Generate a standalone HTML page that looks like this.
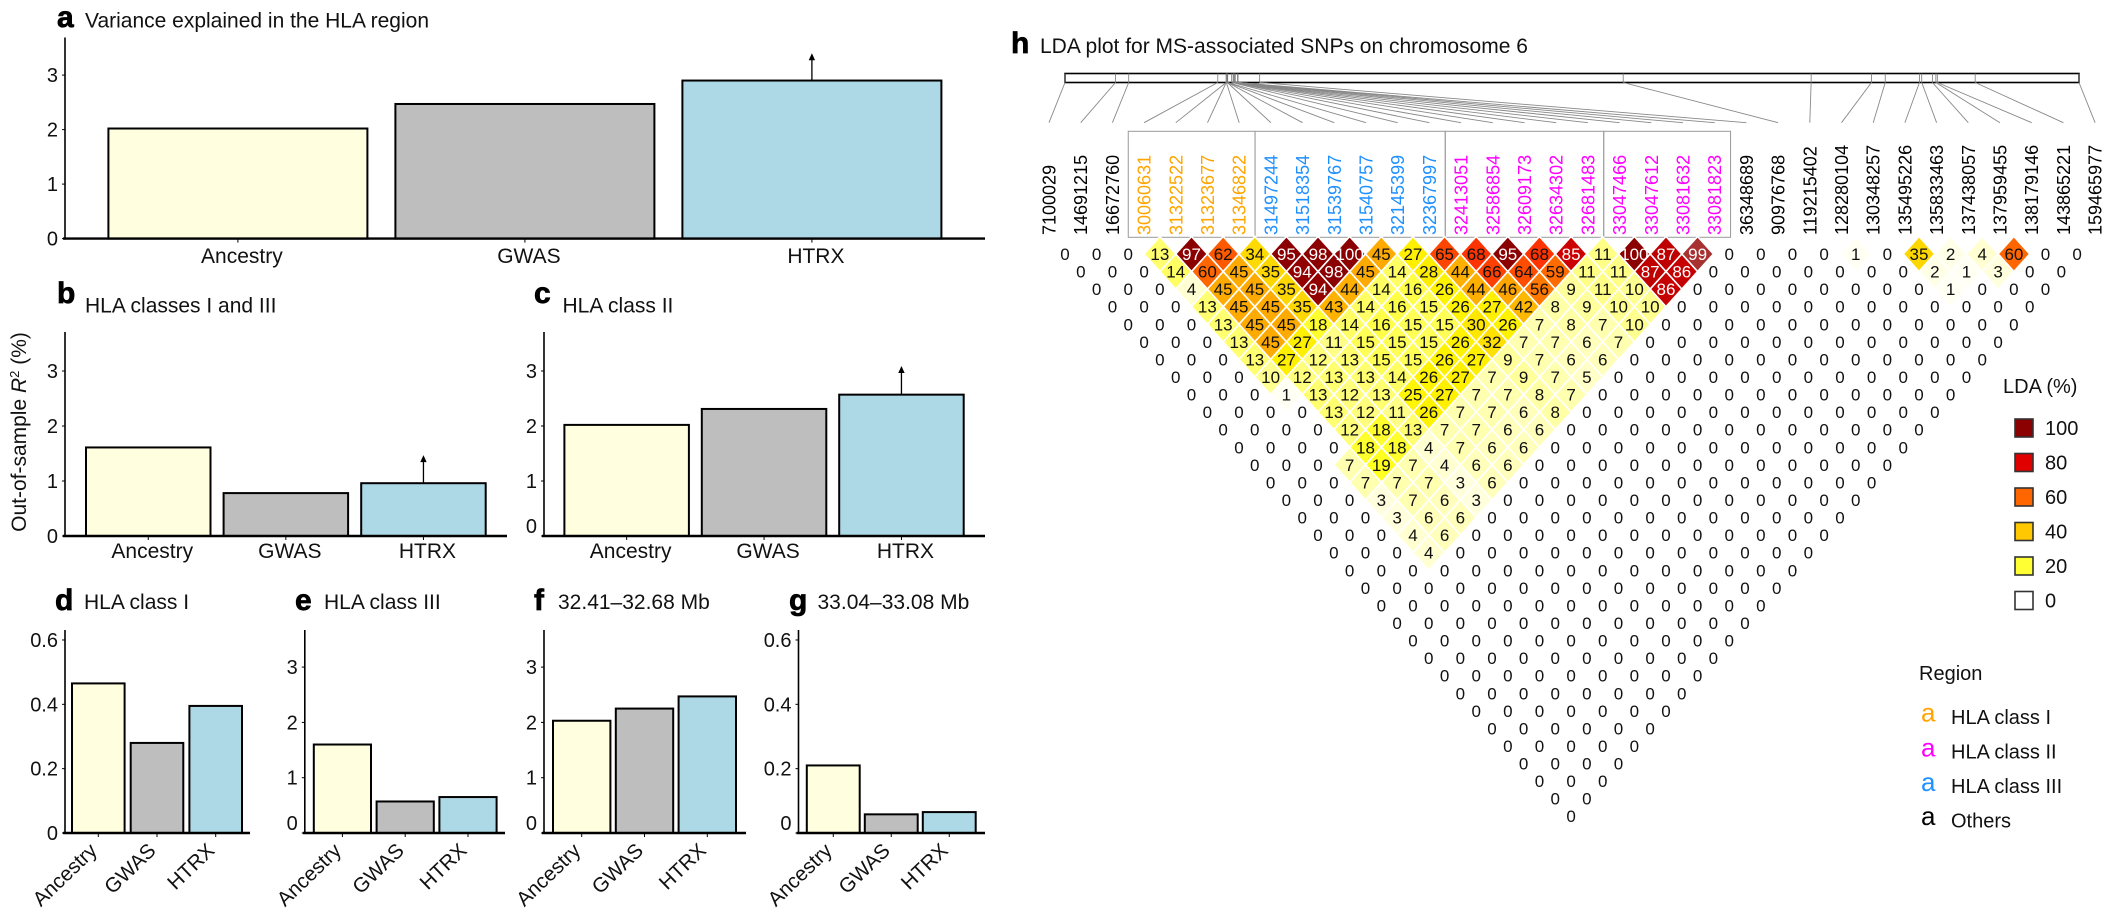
<!DOCTYPE html>
<html lang="en">
<head>
<meta charset="utf-8">
<title>Variance explained in the HLA region and LDA plot</title>
<style>
html,body{margin:0;padding:0;background:#fff;}
svg{display:block;}
text{font-family:"Liberation Sans",Arial,sans-serif;fill:#111;}
.letter{font-size:30px;font-weight:bold;stroke:#000;stroke-width:.7px;fill:#000;}
.title{font-size:21px;}
.lg{font-size:20px;}
.key{font-size:26px;}
</style>
</head>
<body>
<svg id="figure" xmlns="http://www.w3.org/2000/svg" width="2106" height="911" viewBox="0 0 2106 911">
  <rect x="0" y="0" width="2106" height="911" fill="#fff"/>

  <text class="letter" x="57" y="27">a</text>
  <text class="title" x="85" y="27.5">Variance explained in the HLA region</text>
  <text class="letter" x="57" y="303">b</text>
  <text class="title" x="85" y="312.5">HLA classes I and III</text>
  <text class="letter" x="534" y="303">c</text>
  <text class="title" x="562.5" y="312.5">HLA class II</text>
  <text class="letter" x="55" y="610">d</text>
  <text class="title" x="84" y="609">HLA class I</text>
  <text class="letter" x="295" y="610">e</text>
  <text class="title" x="324" y="609">HLA class III</text>
  <text class="letter" x="534" y="610">f</text>
  <text class="title" x="558" y="609">32.41–32.68 Mb</text>
  <text class="letter" x="789" y="610">g</text>
  <text class="title" x="817.5" y="609">33.04–33.08 Mb</text>
  <text class="letter" x="1011" y="53">h</text>
  <text class="title" x="1040" y="53">LDA plot for MS-associated SNPs on chromosome 6</text>

  <text class="title" transform="translate(26,432) rotate(-90)" text-anchor="middle">Out-of-sample <tspan font-style="italic">R</tspan><tspan font-size="13" dy="-7">2</tspan><tspan dy="7"> (%)</tspan></text>

  <g id="bar-panels"></g>
  <g id="ld-plot"></g>

  <g>
    <text class="lg" x="2003" y="393">LDA (%)</text>
    <g id="lda-legend-entries"></g>
  </g>
  <g>
    <text class="lg" x="1919" y="680">Region</text>
    <text class="key" x="1921" y="721.7" style="fill:#ffa500">a</text>
    <text class="lg" x="1951" y="724">HLA class I</text>
    <text class="key" x="1921" y="756.5" style="fill:#ff00ff">a</text>
    <text class="lg" x="1951" y="758.5">HLA class II</text>
    <text class="key" x="1921" y="791" style="fill:#1e90ff">a</text>
    <text class="lg" x="1951" y="793">HLA class III</text>
    <text class="key" x="1921" y="825" style="fill:#000">a</text>
    <text class="lg" x="1951" y="827.5">Others</text>
  </g>
</svg>

<script>
// ---- bar chart data ----
const categories = ['Ancestry', 'GWAS', 'HTRX'];
const barColors = ['#ffffe0', '#bebebe', '#add8e6'];
const valuesA = [2.02, 2.47, 2.9];
const valuesB = [1.61, 0.78, 0.96];
const valuesC = [2.02, 2.31, 2.57];
const valuesD = [0.465, 0.28, 0.395];
const valuesE = [1.6, 0.57, 0.65];
const valuesF = [2.03, 2.25, 2.47];
const valuesG = [0.21, 0.058, 0.065];
const arrowTipA = 3.4;
const arrowTipB = 1.47;
const arrowTipC = 3.09;
const ticksInt = [0, 1, 2, 3];
const tickLabelsInt = ['0', '1', '2', '3'];
const ticksFrac = [0, 0.2, 0.4, 0.6];
const tickLabelsFrac = ['0', '0.2', '0.4', '0.6'];

// ---- LDA plot data ----
const snpPositions = [7100029, 14691215, 16672760, 30060631, 31322522, 31323677, 31346822, 31497244, 31518354, 31539767, 31540757, 32145399, 32367997, 32413051, 32586854, 32609173, 32634302, 32681483, 33047466, 33047612, 33081632, 33081823, 36348689, 90976768, 119215402, 128280104, 130348257, 135495226, 135833463, 137438057, 137959455, 138179146, 143865221, 159465977];
const snpRegions = ['o','o','o','1','1','1','1','3','3','3','3','3','3','2','2','2','2','2','2','2','2','2','o','o','o','o','o','o','o','o','o','o','o','o'];
const ldaTop = [
 [0,0,0,13,97,62,34,95,98,100,45,27,65,68,95,68,85,11,100,87,99,0,0,0,0,1,0,35,2,4,60,0,0],
 [0,0,0,14,60,45,35,94,98,45,14,28,44,66,64,59,11,11,87,86,0,0,0,0,0,0,0,2,1,3,0,0],
 [0,0,0,4,45,45,35,94,44,14,16,26,44,46,56,9,11,10,86,0,0,0,0,0,0,0,0,1,0,0,0],
 [0,0,0,13,45,45,35,43,14,16,15,26,27,42,8,9,10,10],
 [0,0,0,13,45,45,18,14,16,15,15,30,26,7,8,7,10],
 [0,0,0,13,45,27,11,15,15,15,26,32,7,7,6,7],
 [0,0,0,13,27,12,13,15,15,26,27,9,7,6,6],
 [0,0,0,10,12,13,13,14,26,27,7,9,7,5],
 [0,0,0,1,13,12,13,25,27,7,7,8,7],
 [0,0,0,0,13,12,11,26,7,7,6,8],
 [0,0,0,0,12,18,13,7,7,6,6],
 [0,0,0,0,18,18,4,7,6,6],
 [0,0,0,7,19,7,4,6,6],
 [0,0,0,7,7,7,3,6],
 [0,0,0,3,7,6,3],
 [0,0,0,3,6,6],
 [0,0,0,4,6],
 [0,0,0,4]
];
const ldaLegendValues = [100, 80, 60, 40, 20, 0];
const ldaLegendColors = ['#8b0000', '#e00000', '#ff6600', '#ffc800', '#ffff33', '#ffffff'];

const SVG_NS = 'http://www.w3.org/2000/svg';
function el(tag, attrs, parent, txt) {
  const n = document.createElementNS(SVG_NS, tag);
  for (const k in attrs) n.setAttribute(k, attrs[k]);
  if (txt !== undefined) n.textContent = txt;
  parent.appendChild(n);
  return n;
}

const panelLayouts = [
  {id:'a', values:valuesA, arrow:arrowTipA, ticks:ticksInt, labels:tickLabelsInt, axisX:65, axisEnd:985, yTop:37.5, y0:238.6, ppu:54.5, barStart:108.4, barStep:287, barW:259, zeroShift:0, rotated:false, labelBase:263, labelShift:4},
  {id:'b', values:valuesB, arrow:arrowTipB, ticks:ticksInt, labels:tickLabelsInt, axisX:65, axisEnd:507, yTop:332, y0:536, ppu:55, barStart:86, barStep:137.6, barW:124.5, zeroShift:0, rotated:false, labelBase:558, labelShift:4},
  {id:'c', values:valuesC, arrow:arrowTipC, ticks:ticksInt, labels:tickLabelsInt, axisX:544, axisEnd:985, yTop:332, y0:536, ppu:55, barStart:564.4, barStep:137.4, barW:124.5, zeroShift:-10, rotated:false, labelBase:558, labelShift:4},
  {id:'d', values:valuesD, arrow:null, ticks:ticksFrac, labels:tickLabelsFrac, axisX:65, axisEnd:250, yTop:630, y0:833, ppu:321.7, barStart:72, barStep:58.7, barW:52.6, zeroShift:0, rotated:true},
  {id:'e', values:valuesE, arrow:null, ticks:ticksInt, labels:tickLabelsInt, axisX:304.8, axisEnd:505, yTop:630, y0:833, ppu:55.3, barStart:313.8, barStep:62.8, barW:57.2, zeroShift:-10, rotated:true},
  {id:'f', values:valuesF, arrow:null, ticks:ticksInt, labels:tickLabelsInt, axisX:544, axisEnd:746, yTop:630, y0:833, ppu:55.3, barStart:553, barStep:62.8, barW:57.4, zeroShift:-10, rotated:true},
  {id:'g', values:valuesG, arrow:null, ticks:ticksFrac, labels:tickLabelsFrac, axisX:798.5, axisEnd:985, yTop:630, y0:833, ppu:321.7, barStart:806.8, barStep:58, barW:52.9, zeroShift:-10, rotated:true}
];

const barRoot = document.getElementById('bar-panels');
panelLayouts.forEach(function (p) {
  const g = el('g', {}, barRoot);
  
  
  const yScale = function (v) { return p.y0 - v * p.ppu; };
  const xLeft = function (i) { return p.barStart + i * p.barStep; };

  categories.forEach(function (cat, i) {
    const top = yScale(p.values[i]);
    const bar = el('rect', {x:xLeft(i), y:top, width:p.barW, height:p.y0 - top, fill:barColors[i], stroke:'#000', 'stroke-width':2}, g);
    
    
    const cx = xLeft(i) + p.barW / 2;
    const tick = el('line', {x1:cx, x2:cx, y1:p.y0, y2:p.y0 + 4, stroke:'#000', 'stroke-width':1}, g);
    
    
    let lab;
    if (p.rotated) {
      lab = el('text', {transform:'translate(' + cx + ',' + (p.y0 + 19) + ') rotate(-44)', 'text-anchor':'end', 'font-size':20.5}, g, cat);
    } else {
      lab = el('text', {x:cx + p.labelShift, y:p.labelBase, 'text-anchor':'middle', 'font-size':21}, g, cat);
    }
    
    
  });

  if (p.arrow !== null) {
    const cx = xLeft(2) + p.barW / 2;
    const tipY = yScale(p.arrow);
    const stem = el('line', {x1:cx, x2:cx, y1:yScale(p.values[2]), y2:tipY + 3, stroke:'#000', 'stroke-width':1.3}, g);
    
    
    const head = el('polygon', {points:(cx - 3.2) + ',' + (tipY + 7) + ' ' + cx + ',' + tipY + ' ' + (cx + 3.2) + ',' + (tipY + 7), fill:'#000'}, g);
    
    
  }

  const yAxis = el('line', {x1:p.axisX, x2:p.axisX, y1:p.yTop, y2:p.y0 + 1, stroke:'#000', 'stroke-width':1.6}, g);
  
  
  const xAxis = el('line', {x1:p.axisX - 2, x2:p.axisEnd, y1:p.y0, y2:p.y0, stroke:'#000', 'stroke-width':2.4}, g);
  
  

  p.ticks.forEach(function (t, i) {
    const y = yScale(t);
    const tk = el('line', {x1:p.axisX - 3, x2:p.axisX, y1:y, y2:y, stroke:'#000', 'stroke-width':1}, g);
    
    
    const shift = t === 0 ? p.zeroShift : 0;
    const lb = el('text', {x:p.axisX - 7, y:y + 7 + shift, 'text-anchor':'end', 'font-size':20}, g, p.labels[i]);
    
    
  });
});

// ---- LDA plot ----
const ldRoot = document.getElementById('ld-plot');
const nSnp = snpPositions.length;
const chromLeft = 1065, chromRight = 2079, chromTop = 73.5, chromBottom = 82.5;
const connectorEnd = 122.7;
const labelStartX = 1049, labelStep = 31.7;
const cellX0 = 1065, cellW = 31.63, cellY0 = 254, cellH = 17.57;
const regionColor = {o:'#000000', '1':'#ffa500', '2':'#ff00ff', '3':'#1e90ff'};

function chromX(pos) {
  return chromLeft + (pos - snpPositions[0]) * (chromRight - chromLeft) / (snpPositions[nSnp - 1] - snpPositions[0]);
}
function labelX(i) { return labelStartX + i * labelStep; }
function cellCenterX(r, c) { return cellX0 + (c + r / 2) * cellW; }
function cellCenterY(r) { return cellY0 + r * cellH; }

const chromBar = el('rect', {x:chromLeft, y:chromTop, width:chromRight - chromLeft, height:chromBottom - chromTop, fill:'#fff', stroke:'#000', 'stroke-width':1.6}, ldRoot);



snpPositions.forEach(function (pos, i) {
  const cx = chromX(pos);
  const inner = el('line', {x1:cx, x2:cx, y1:chromTop, y2:chromBottom, stroke:'#777', 'stroke-width':0.8}, ldRoot);
  
  
  const conn = el('line', {x1:cx, y1:chromBottom, x2:labelX(i), y2:connectorEnd, stroke:'#888', 'stroke-width':0.9}, ldRoot);
  
  
  const lbl = el('text', {transform:'translate(' + (labelX(i) + 6.5) + ',' + 235 + ') rotate(-90)', 'font-size':18, style:'fill:' + regionColor[snpRegions[i]]}, ldRoot, String(pos));
  
  
});

// region boxes are derived from where the region assignment changes
let boxStart = null;
const boxTop = 131.3, boxBottom = 237.3;
for (let i = 0; i <= nSnp; i++) {
  const region = i < nSnp ? snpRegions[i] : 'o';
  const prev = i > 0 ? snpRegions[i - 1] : 'o';
  if (region !== prev || (i === 18)) {
    if (boxStart !== null) {
      const box = el('rect', {x:labelX(boxStart - 0.5), y:boxTop, width:(i - boxStart) * labelStep, height:boxBottom - boxTop, fill:'none', stroke:'#999', 'stroke-width':1}, ldRoot);
      
      
    }
    boxStart = region === 'o' ? null : i;
  }
}

const colorStops = [[0,[255,255,255]],[7,[255,255,176]],[13,[255,255,112]],[19,[255,255,32]],[26,[255,243,0]],[35,[255,215,0]],[45,[255,170,0]],[60,[255,102,0]],[68,[255,51,0]],[85,[204,0,0]],[95,[139,0,0]],[100,[139,0,0]]];
function ldColor(v) {
  if (v === 99) return '#a83232';
  for (let i = 1; i < colorStops.length; i++) {
    if (v <= colorStops[i][0]) {
      const a = colorStops[i - 1], b = colorStops[i];
      const t = (v - a[0]) / (b[0] - a[0]);
      return 'rgb(' + [0, 1, 2].map(function (k) { return Math.round(a[1][k] + t * (b[1][k] - a[1][k])); }).join(',') + ')';
    }
  }
  return '#8b0000';
}

for (let r = 0; r < nSnp - 1; r++) {
  const nCells = nSnp - 1 - r;
  for (let c = 0; c < nCells; c++) {
    const row = ldaTop[r];
    const v = row && c < row.length ? row[c] : 0;
    const x = cellCenterX(r, c), y = cellCenterY(r);
    if (v > 0) {
      const d = el('polygon', {points:(x - cellW / 2) + ',' + y + ' ' + x + ',' + (y - cellH) + ' ' + (x + cellW / 2) + ',' + y + ' ' + x + ',' + (y + cellH), fill:ldColor(v), stroke:'#fff', 'stroke-width':1.6}, ldRoot);
      
      
    }
  }
}
for (let r = 0; r < nSnp - 1; r++) {
  const nCells = nSnp - 1 - r;
  for (let c = 0; c < nCells; c++) {
    const row = ldaTop[r];
    const v = row && c < row.length ? row[c] : 0;
    const t = el('text', {x:cellCenterX(r, c), y:cellCenterY(r) + 6, 'text-anchor':'middle', 'font-size':17, style:'fill:' + (v >= 85 ? '#fff' : '#111')}, ldRoot, String(v));
    
    
  }
}

// ---- LDA legend ----
const legendRoot = document.getElementById('lda-legend-entries');
ldaLegendValues.forEach(function (val, i) {
  const y = 419 + i * 34.5;
  const sw = el('rect', {x:2015, y:y, width:18, height:18, fill:ldaLegendColors[i], stroke:'#333', 'stroke-width':1.6}, legendRoot);
  
  
  const tx = el('text', {x:2045, y:y + 16, class:'lg'}, legendRoot, String(val));
  
  
});
</script>
</body>
</html>
